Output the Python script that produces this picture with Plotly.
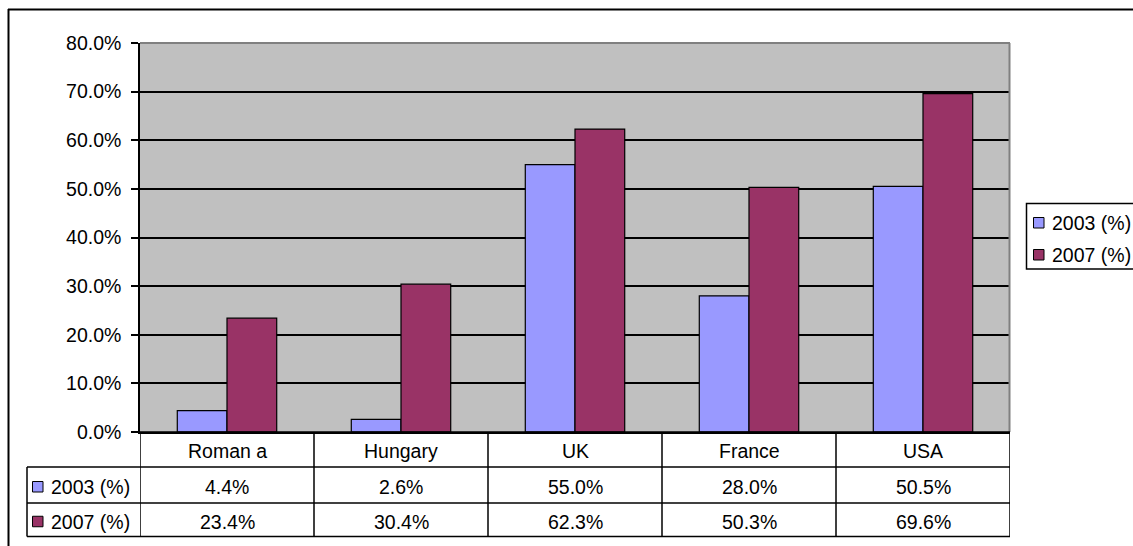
import plotly.graph_objects as go

# ---- data ----
categories = ["Roman a", "Hungary", "UK", "France", "USA"]
series_names = ["2003 (%)", "2007 (%)"]
values_2003 = [0.044, 0.026, 0.550, 0.280, 0.505]
values_2007 = [0.234, 0.304, 0.623, 0.503, 0.696]
y_ticks = [0.0, 0.1, 0.2, 0.3, 0.4, 0.5, 0.6, 0.7, 0.8]

series_values = [values_2003, values_2007]
series_colors = ["#9999FF", "#993366"]

# ---- geometry (pixels) ----
W, H = 1133, 546
PL, PR, PT, PB = 140, 1010, 43, 432          # plot area
ROW_CAT, ROW_A, ROW_B, ROW_END = 432, 467, 503, 536.5
TABLE_LEFT = 27
FONT = "Liberation Sans, Arial, sans-serif"
FS = 19.5


def px(x):
    return x / W


def py(y):
    return 1 - y / H


fig = go.Figure()
for name, vals, col in zip(series_names, series_values, series_colors):
    fig.add_trace(go.Bar(
        x=categories, y=vals, name=name,
        marker=dict(color=col, line=dict(color="black", width=1.2)),
        showlegend=False,
    ))

shapes = []
annotations = []

# outer chart border (top and left edges)
shapes.append(dict(type="line", xref="paper", yref="paper",
                   x0=px(8), x1=px(W + 5), y0=py(9.5), y1=py(9.5),
                   line=dict(color="black", width=2)))
shapes.append(dict(type="line", xref="paper", yref="paper",
                   x0=px(8.5), x1=px(8.5), y0=py(9), y1=py(H + 5),
                   line=dict(color="black", width=2)))

# plot area frame: grey top/right
shapes.append(dict(type="line", xref="paper", yref="paper",
                   x0=px(PL), x1=px(PR), y0=py(PT), y1=py(PT),
                   line=dict(color="#808080", width=2)))
shapes.append(dict(type="line", xref="paper", yref="paper",
                   x0=px(PR - 0.5), x1=px(PR - 0.5), y0=py(PT), y1=py(PB),
                   line=dict(color="#808080", width=2)))

# data table: horizontal rules
for yy, x0 in [(ROW_CAT, PL), (ROW_A, TABLE_LEFT), (ROW_B, TABLE_LEFT), (ROW_END, TABLE_LEFT)]:
    shapes.append(dict(type="line", xref="paper", yref="paper",
                       x0=px(x0), x1=px(PR), y0=py(yy), y1=py(yy),
                       line=dict(color="black", width=1.5)))
# vertical rules at category boundaries
for i in range(len(categories) + 1):
    shapes.append(dict(type="line", xref="x", yref="paper",
                       x0=i - 0.5, x1=i - 0.5, y0=py(ROW_CAT), y1=py(ROW_END),
                       line=dict(color="black", width=1.5)))
shapes.append(dict(type="line", xref="paper", yref="paper",
                   x0=px(TABLE_LEFT), x1=px(TABLE_LEFT), y0=py(ROW_A), y1=py(ROW_END),
                   line=dict(color="black", width=1.5)))

# category header row
for c in categories:
    annotations.append(dict(x=c, xref="x", y=py((ROW_CAT + ROW_A) / 2 + 1), yref="paper",
                            text=c, showarrow=False, xanchor="center", yanchor="middle",
                            font=dict(family=FONT, size=FS, color="black")))

# value rows with row keys
row_centers = [(ROW_A + ROW_B) / 2 + 2, (ROW_B + ROW_END) / 2 + 2]
for name, vals, col, yc in zip(series_names, series_values, series_colors, row_centers):
    shapes.append(dict(type="rect", xref="paper", yref="paper",
                       x0=px(32.5), x1=px(43), y0=py(yc - 5.5), y1=py(yc + 5),
                       fillcolor=col, line=dict(color="black", width=1)))
    annotations.append(dict(x=px(49), xref="paper", y=py(yc), yref="paper",
                            text=name, showarrow=False, xanchor="left", yanchor="middle",
                            font=dict(family=FONT, size=FS, color="black")))
    for c, v in zip(categories, vals):
        annotations.append(dict(x=c, xref="x", y=py(yc), yref="paper",
                                text=f"{v * 100:.1f}%", showarrow=False,
                                xanchor="center", yanchor="middle",
                                font=dict(family=FONT, size=FS, color="black")))

# legend box
shapes.append(dict(type="rect", xref="paper", yref="paper",
                   x0=px(1026.5), x1=px(W + 5), y0=py(203.5), y1=py(269),
                   fillcolor="white", line=dict(color="black", width=1.5)))
for name, col, yc in zip(series_names, series_colors, [223, 255]):
    shapes.append(dict(type="rect", xref="paper", yref="paper",
                       x0=px(1033.5), x1=px(1044), y0=py(yc - 5.5), y1=py(yc + 5),
                       fillcolor=col, line=dict(color="black", width=1)))
    annotations.append(dict(x=px(1050), xref="paper", y=py(yc), yref="paper",
                            text=name, showarrow=False, xanchor="left", yanchor="middle",
                            font=dict(family=FONT, size=FS, color="black")))

fig.update_layout(
    width=W, height=H, autosize=False,
    margin=dict(l=0, r=0, t=0, b=0, pad=0),
    paper_bgcolor="white", plot_bgcolor="#C0C0C0",
    barmode="group", bargap=1.5 / 3.5, bargroupgap=0,
    font=dict(family=FONT, size=FS, color="black"),
    shapes=shapes, annotations=annotations,
    xaxis=dict(domain=[px(PL), px(PR)], type="category", range=[-0.5, len(categories) - 0.5],
               showticklabels=False, showgrid=False, zeroline=False, showline=True,
               linecolor="black", linewidth=1.5, ticks="", automargin=False),
    yaxis=dict(domain=[py(PB), py(PT)], range=[0, 0.8], tickvals=y_ticks,
               tickformat=".1%", ticks="outside", ticklen=7, tickwidth=1.5, tickcolor="black",
               showline=True, linecolor="black", linewidth=1.5,
               showgrid=True, gridcolor="black", gridwidth=1.5, zeroline=False,
               ticklabelstandoff=6, automargin=False,
               tickfont=dict(family=FONT, size=FS, color="black")),
)

fig.write_html("out.html")
